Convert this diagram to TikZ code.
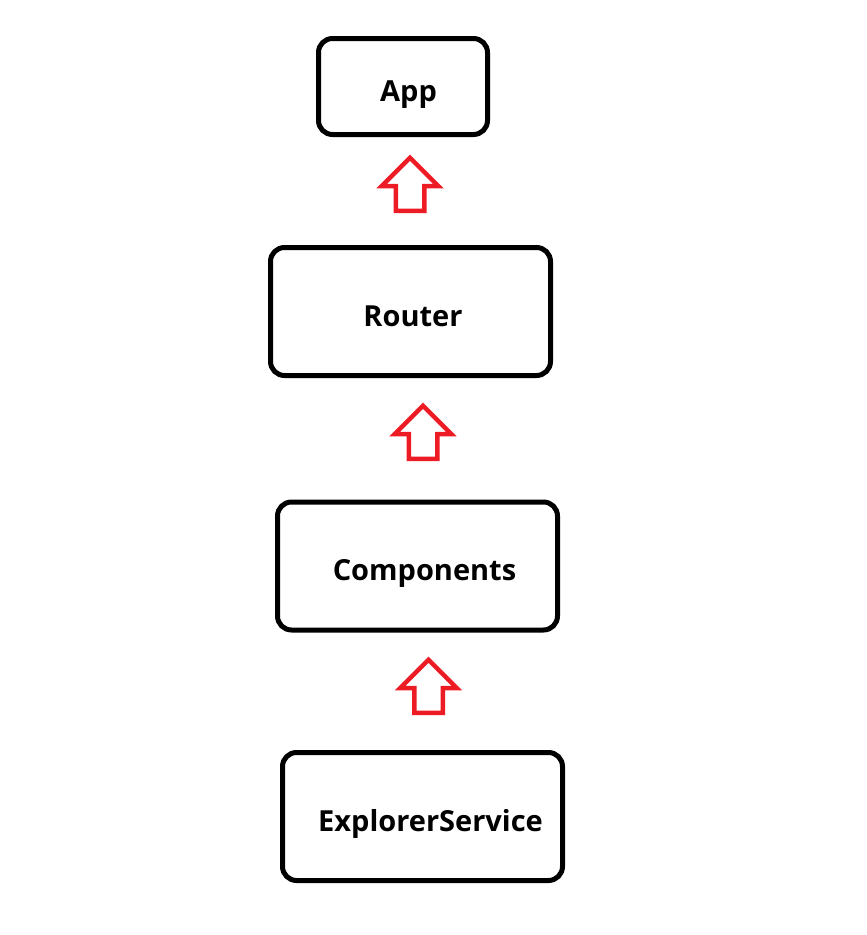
\documentclass[tikz,border=0pt]{standalone}
\usepackage{fontspec}
\setmainfont{Open Sans}
\usetikzlibrary{shapes.arrows}
\definecolor{arrowred}{HTML}{ED1C24}

\tikzset{
	layer/.style={draw,line width=5pt,rounded corners=14pt,inner sep=0pt,text height=29pt,text depth=0pt,
		font=\bfseries\fontsize{29}{34}\selectfont},
	uparrow/.style={single arrow,draw=arrowred,line width=4.5pt,shape border rotate=90,inner sep=12pt,
		minimum height=53pt,minimum width=52pt,single arrow head extend=14pt,single arrow tip angle=90,anchor=tail}
}

\begin{document}
\begin{tikzpicture}[x=1pt,y=-1pt]
	\useasboundingbox (0,0) rectangle (867,935);
	\node[layer,minimum width=169pt,minimum height=96pt] (app) at (403,86.5) {\hspace*{11pt}App};
	\node[layer,minimum width=280pt,minimum height=128pt] (router) at (410.5,311.5) {\hspace*{5pt}Router};
	\node[layer,minimum width=280pt,minimum height=128pt] (components) at (417.5,566) {\hspace*{14pt}Components};
	\node[layer,minimum width=280pt,minimum height=128pt] (explorer) at (422.5,816.5) {\hspace*{16pt}ExplorerService};
	\node[uparrow] (up1) at (410,213) {};
	\node[uparrow] (up2) at (423,461) {};
	\node[uparrow] (up3) at (428.5,715) {};
\end{tikzpicture}
\end{document}
